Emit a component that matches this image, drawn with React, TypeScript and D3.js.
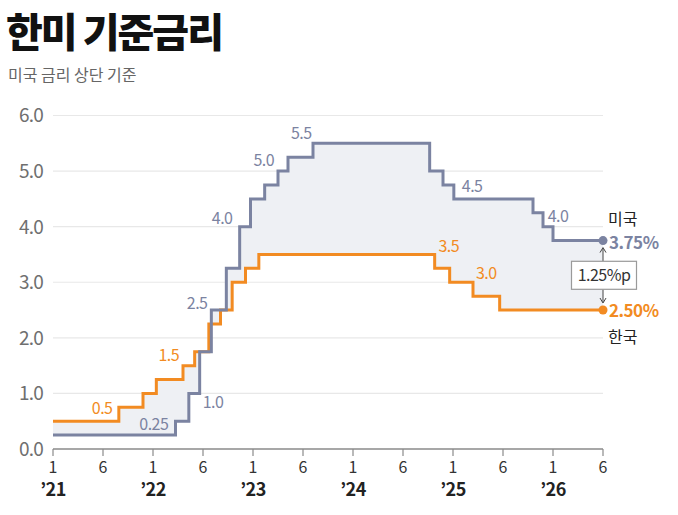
import React from "react";
import * as d3 from "d3";

// months counted from Jan 2021 (0) to Jun 2026 (66)
const tickMonths = [0, 6, 12, 18, 24, 30, 36, 42, 48, 54, 60, 66];
const tickLabels = ["1", "6", "1", "6", "1", "6", "1", "6", "1", "6", "1", "6"];
const yearMonths = [0, 12, 24, 36, 48, 60];
const yearLabels = ["’21", "’22", "’23", "’24", "’25", "’26"];
const yTicks = [0, 1, 2, 3, 4, 5, 6];

// US policy rate (upper bound), value holds from each change month
const usMonths = [0, 14.7, 16.3, 17.6, 19.0, 20.8, 22.4, 23.7, 25.4, 27.0, 28.2, 31.2, 45.2, 46.8, 48.1, 57.6, 58.8, 60.0];
const usRates = [0.25, 0.5, 1.0, 1.75, 2.5, 3.25, 4.0, 4.5, 4.75, 5.0, 5.25, 5.5, 5.0, 4.75, 4.5, 4.25, 4.0, 3.75];

// Korea base rate
const krMonths = [0, 7.9, 10.8, 12.4, 15.6, 17.0, 18.7, 20.1, 21.5, 23.1, 24.7, 45.8, 47.6, 50.4, 53.6];
const krRates = [0.5, 0.75, 1.0, 1.25, 1.5, 1.75, 2.25, 2.5, 3.0, 3.25, 3.5, 3.25, 3.0, 2.75, 2.5];

const endMonth = 66;

// callout labels, anchored in chart coordinates (month, rate level)
const usLabelText = ["0.25", "1.0", "2.5", "4.0", "5.0", "5.5", "4.5", "4.0"];
const usLabelMonth = [12.1, 19.2, 17.3, 20.3, 25.3, 29.8, 50.3, 60.6];
const usLabelLevel = [0.45, 0.85, 2.62, 4.15, 5.2, 5.68, 4.73, 4.19];
const krLabelText = ["0.5", "1.5", "3.5", "3.0"];
const krLabelMonth = [5.9, 13.9, 47.5, 52.0];
const krLabelLevel = [0.74, 1.69, 3.65, 3.17];

const US_COLOR = "#7b83a1";
const KR_COLOR = "#f28b22";
const FONT = "'Noto Sans CJK KR', 'Noto Sans', sans-serif";

const width = 678;
const height = 515;

function stepValue(months: number[], rates: number[], m: number) {
  let v = rates[0];
  for (let i = 0; i < months.length; i++) if (months[i] <= m) v = rates[i];
  return v;
}

export default function App() {
  const x = d3.scaleLinear().domain([0, endMonth]).range([53, 603]);
  const y = d3.scaleLinear().domain([0, 6]).range([449, 115.5]);

  const usPts: [number, number][] = usMonths.map((m, i) => [m, usRates[i]]);
  usPts.push([endMonth, usRates[usRates.length - 1]]);
  const krPts: [number, number][] = krMonths.map((m, i) => [m, krRates[i]]);
  krPts.push([endMonth, krRates[krRates.length - 1]]);

  const line = d3
    .line<[number, number]>()
    .x((d) => x(d[0]))
    .y((d) => y(d[1]))
    .curve(d3.curveStepAfter);

  const allMonths = Array.from(new Set([...usMonths, ...krMonths, endMonth])).sort((a, b) => a - b);
  const band = d3
    .area<number>()
    .x((m) => x(m))
    .y0((m) => y(stepValue(krMonths, krRates, m)))
    .y1((m) => y(stepValue(usMonths, usRates, m)))
    .curve(d3.curveStepAfter);

  const usEnd = usRates[usRates.length - 1];
  const krEnd = krRates[krRates.length - 1];
  const gap = usEnd - krEnd;
  const ex = x(endMonth);
  const boxMid = (y(usEnd) + y(krEnd)) / 2;

  return (
    <svg width={width} height={height} style={{ position: "absolute", left: 0, top: 0, background: "#fff" }} fontFamily={FONT}>
      <text x={6} y={47} fontSize={40} fontWeight={900} letterSpacing={-2} fill="#111">
        한미 기준금리
      </text>
      <text x={8} y={81} fontSize={16} fill="#666">
        미국 금리 상단 기준
      </text>

      {/* gridlines */}
      {yTicks.slice(1).map((t) => (
        <line key={t} x1={x(0)} x2={x(endMonth)} y1={y(t)} y2={y(t)} stroke="#e8e8e8" strokeWidth={1.2} />
      ))}
      {yTicks.map((t) => (
        <text key={t} x={43} y={y(t)} dy="0.36em" textAnchor="end" fontSize={19} fill="#6f6f6f" letterSpacing={-0.8}>
          {t.toFixed(1)}
        </text>
      ))}

      <path d={band(allMonths) || ""} fill="#eef0f4" />

      {/* x axis */}
      <line x1={x(0)} x2={x(endMonth)} y1={y(0)} y2={y(0)} stroke="#8a8a8a" strokeWidth={1.5} />
      {tickMonths.map((m, i) => (
        <g key={m}>
          <line x1={x(m)} x2={x(m)} y1={y(0)} y2={y(0) + 7} stroke="#8a8a8a" strokeWidth={1.2} />
          <text x={x(m)} y={467} dy="0.36em" textAnchor="middle" fontSize={16} fill="#333">
            {tickLabels[i]}
          </text>
        </g>
      ))}
      {yearMonths.map((m, i) => (
        <text key={m} x={x(m)} y={490} dy="0.36em" textAnchor="middle" fontSize={18} fontWeight={700} fill="#222" letterSpacing={-0.5}>
          {yearLabels[i]}
        </text>
      ))}

      <path d={line(krPts) || ""} fill="none" stroke={KR_COLOR} strokeWidth={3} />
      <path d={line(usPts) || ""} fill="none" stroke={US_COLOR} strokeWidth={3} />

      {usLabelText.map((t, i) => (
        <text key={"u" + i} x={x(usLabelMonth[i])} y={y(usLabelLevel[i])} dy="0.36em" textAnchor="middle" fontSize={16} fill={US_COLOR} letterSpacing={-0.5}>
          {t}
        </text>
      ))}
      {krLabelText.map((t, i) => (
        <text key={"k" + i} x={x(krLabelMonth[i])} y={y(krLabelLevel[i])} dy="0.36em" textAnchor="middle" fontSize={16} fill={KR_COLOR} letterSpacing={-0.5}>
          {t}
        </text>
      ))}

      {/* end markers */}
      <circle cx={ex} cy={y(usEnd)} r={4.5} fill={US_COLOR} />
      <circle cx={ex} cy={y(krEnd)} r={4.5} fill={KR_COLOR} />
      <text x={608} y={219} dy="0.36em" fontSize={16} fill="#222">미국</text>
      <text x={609} y={y(usEnd) + 2} dy="0.36em" fontSize={17} fontWeight={700} fill={US_COLOR} letterSpacing={-0.5}>
        {usEnd.toFixed(2)}%
      </text>
      <text x={609} y={y(krEnd) + 1} dy="0.36em" fontSize={17} fontWeight={700} fill={KR_COLOR} letterSpacing={-0.5}>
        {krEnd.toFixed(2)}%
      </text>
      <text x={608} y={337} dy="0.36em" fontSize={16} fill="#222">한국</text>

      {/* gap callout */}
      <line x1={ex} x2={ex} y1={boxMid - 14} y2={y(usEnd) + 8} stroke="#444" strokeWidth={1} />
      <path d={`M${ex - 3},${y(usEnd) + 12} L${ex},${y(usEnd) + 7} L${ex + 3},${y(usEnd) + 12}`} fill="none" stroke="#444" strokeWidth={1} />
      <line x1={ex} x2={ex} y1={boxMid + 14} y2={y(krEnd) - 8} stroke="#444" strokeWidth={1} />
      <path d={`M${ex - 3},${y(krEnd) - 12} L${ex},${y(krEnd) - 7} L${ex + 3},${y(krEnd) - 12}`} fill="none" stroke="#444" strokeWidth={1} />
      <rect x={571.5} y={boxMid - 14} width={65} height={28} fill="#fff" stroke="#9a9a9a" strokeWidth={1.2} />
      <text x={604} y={boxMid} dy="0.36em" textAnchor="middle" fontSize={16} fill="#333" letterSpacing={-0.5}>
        {gap.toFixed(2)}%p
      </text>
    </svg>
  );
}
